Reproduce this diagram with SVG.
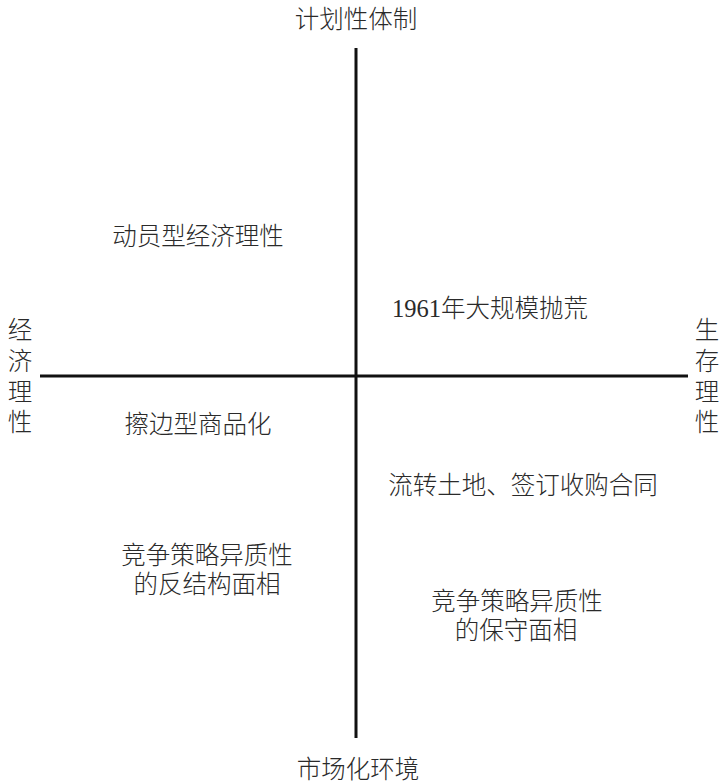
<svg xmlns="http://www.w3.org/2000/svg" width="721" height="784" viewBox="0 0 721 784">
<style>
text{font-family:"Liberation Serif","Noto Sans CJK SC",serif;font-size:24.5px;font-weight:300;fill:#2a2a2a;text-anchor:middle}
.axis{stroke:#111;stroke-width:3;fill:none}
</style>
<rect width="721" height="784" fill="#fff"/>
<g id="connectors">
<line class="axis" x1="356" y1="48" x2="356" y2="738"/>
<line class="axis" x1="40" y1="376" x2="688" y2="376"/>
</g>
<g id="axis-top"><text x="356" y="28">计划性体制</text></g>
<g id="axis-bottom"><text x="358" y="778">市场化环境</text></g>
<g id="axis-left">
<text x="20" y="339">经</text><text x="20" y="370">济</text><text x="20" y="401">理</text><text x="20" y="431">性</text>
</g>
<g id="axis-right">
<text x="707" y="339">生</text><text x="707" y="370">存</text><text x="707" y="401">理</text><text x="707" y="431">性</text>
</g>
<g id="q1"><text x="198" y="245">动员型经济理性</text></g>
<g id="q2"><text x="490" y="317">1961年大规模抛荒</text></g>
<g id="q3"><text x="198" y="433">擦边型商品化</text></g>
<g id="q4"><text x="523" y="494">流转土地、签订收购合同</text></g>
<g id="q5"><text x="207" y="564">竞争策略异质性</text><text x="207" y="593">的反结构面相</text></g>
<g id="q6"><text x="517" y="610">竞争策略异质性</text><text x="516" y="639">的保守面相</text></g>
</svg>
